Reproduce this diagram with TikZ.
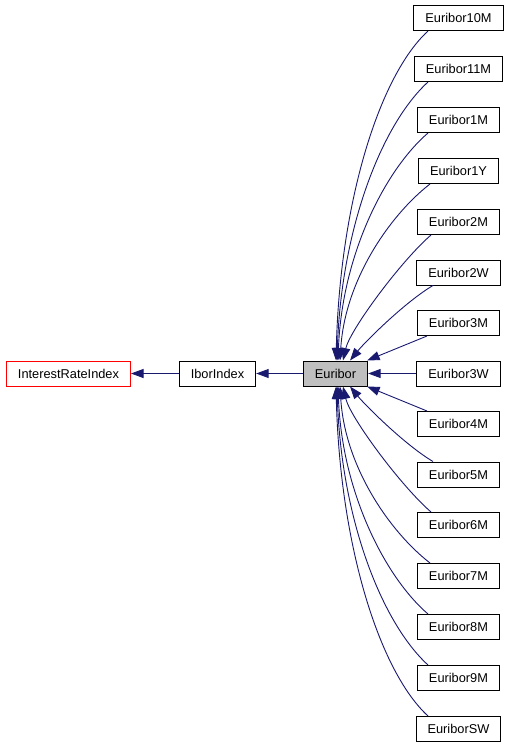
\documentclass[tikz,border=0pt]{standalone}
\usepackage{fontspec}
\setmainfont{Liberation Sans}
\usetikzlibrary{arrows.meta}
\definecolor{edgeblue}{HTML}{191970}
\definecolor{nodegray}{HTML}{BFBFBF}
\tikzset{
  cls/.style={draw=black, line width=1pt, fill=white, minimum height=25pt, inner xsep=11.5pt, inner ysep=0pt, font=\fontsize{12.8}{15}\selectfont, text=black},
  edge/.style={draw=edgeblue, line width=0.9pt, {Triangle[length=12.5pt,width=9pt]}-}
}
\begin{document}
\begin{tikzpicture}[x=1pt,y=-1pt]
\useasboundingbox (0,0) rectangle (508,747);
% main chain
\node[cls, draw=red] (iri) at (68.5,373.5) {InterestRateIndex};
\node[cls] (ibor) at (217.5,373.5) {IborIndex};
\node[cls, fill=nodegray] (eur) at (335.5,373.5) {Euribor};
% children
\node[cls] (e10m) at (458.5,18) {Euribor10M};
\node[cls] (e11m) at (458.5,69) {Euribor11M};
\node[cls] (e1m) at (458.5,120) {Euribor1M};
\node[cls] (e1y) at (458.5,171) {Euribor1Y};
\node[cls] (e2m) at (458.5,222) {Euribor2M};
\node[cls] (e2w) at (458.5,272.5) {Euribor2W};
\node[cls] (e3m) at (458.5,323) {Euribor3M};
\node[cls] (e3w) at (458.5,373.5) {Euribor3W};
\node[cls] (e4m) at (458.5,424) {Euribor4M};
\node[cls] (e5m) at (458.5,474.5) {Euribor5M};
\node[cls] (e6m) at (458.5,525) {Euribor6M};
\node[cls] (e7m) at (458.5,576) {Euribor7M};
\node[cls] (e8m) at (458.5,627) {Euribor8M};
\node[cls] (e9m) at (458.5,678) {Euribor9M};
\node[cls] (esw) at (458.5,729) {EuriborSW};
% chain edges
\draw[edge] (iri.east) -- (ibor.west);
\draw[edge] (ibor.east) -- (eur.west);
% upper edges
\draw[edge] ([xshift=0.5pt]eur.north) .. controls (340,200) and (380,75) .. ([xshift=-30.5pt]e10m.south);
\draw[edge] ([xshift=1.5pt]eur.north) .. controls (341,230) and (381,125) .. ([xshift=-30.5pt]e11m.south);
\draw[edge] ([xshift=2.5pt]eur.north) .. controls (342,255) and (385,170) .. ([xshift=-30.5pt]e1m.south);
\draw[edge] ([xshift=4.5pt]eur.north) .. controls (345,280) and (390,215) .. ([xshift=-28.5pt]e1y.south);
\draw[edge] ([xshift=7.5pt]eur.north) .. controls (350,330) and (400,262) .. ([xshift=-27.5pt]e2m.south);
\draw[edge] ([xshift=14.5pt]eur.north) .. controls (365,342) and (405,302) .. ([xshift=-25.5pt]e2w.south);
\draw[edge] ([xshift=-1pt]eur.north east) -- ([xshift=-31.5pt]e3m.south);
\draw[edge] (eur.east) -- (e3w.west);
% lower edges
\draw[edge] ([xshift=-1pt]eur.south east) -- ([xshift=-31.5pt]e4m.north);
\draw[edge] ([xshift=14.5pt]eur.south) .. controls (365,405) and (405,445) .. ([xshift=-25.5pt]e5m.north);
\draw[edge] ([xshift=7.5pt]eur.south) .. controls (350,417) and (400,485) .. ([xshift=-27.5pt]e6m.north);
\draw[edge] ([xshift=4.5pt]eur.south) .. controls (345,467) and (390,532) .. ([xshift=-28.5pt]e7m.north);
\draw[edge] ([xshift=2.5pt]eur.south) .. controls (342,492) and (385,577) .. ([xshift=-30.5pt]e8m.north);
\draw[edge] ([xshift=1.5pt]eur.south) .. controls (341,517) and (381,622) .. ([xshift=-30.5pt]e9m.north);
\draw[edge] ([xshift=0.5pt]eur.south) .. controls (340,547) and (380,672) .. ([xshift=-30.5pt]esw.north);
\end{tikzpicture}
\end{document}
